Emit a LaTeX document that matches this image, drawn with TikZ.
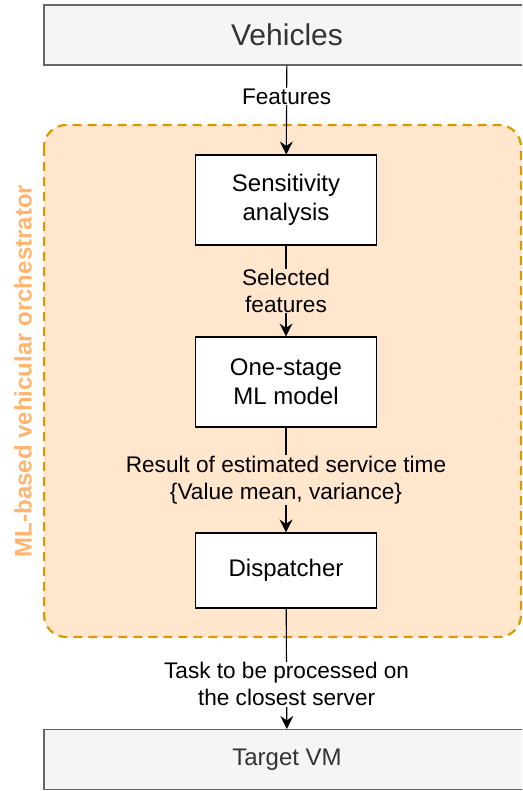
\documentclass[tikz,border=0pt]{standalone}
\usepackage{fontspec}
\setmainfont{Liberation Sans}
\usetikzlibrary{arrows.meta}
\definecolor{grayfill}{HTML}{F5F5F5}
\definecolor{graydraw}{HTML}{666666}
\definecolor{graytext}{HTML}{333333}
\definecolor{orangefill}{HTML}{FFE6CC}
\definecolor{orangedraw}{HTML}{D79B00}
\definecolor{orangetext}{HTML}{FFB570}
\tikzset{
  box/.style={draw, line width=1.1pt, fill=white, minimum width=181pt,
    minimum height=90pt, align=center, font=\fontsize{24}{29}\selectfont},
  endbox/.style={draw=graydraw, fill=grayfill, text=graytext, line width=1.1pt,
    minimum width=486pt, minimum height=60pt},
  lbl/.style={fill=white, inner sep=0.5pt, align=center,
    font=\fontsize{22.6}{27}\selectfont},
  arr/.style={line width=1.1pt, -{Stealth[length=13pt,width=13pt,inset=4.5pt]}}
}
\begin{document}
\begin{tikzpicture}[x=1pt, y=-1pt]
      \path[use as bounding box, clip] (0,0) rectangle (522,791);
      % orchestrator container
      \draw[orangedraw, fill=orangefill, line width=2.2pt, rounded corners=22pt,
        dash pattern=on 9pt off 6pt] (44,125) rectangle (521,637);
      \node[rotate=90, text=orangetext, font=\fontsize{24}{28}\selectfont\bfseries]
        (orch) at (23,371) {ML-based vehicular orchestrator};
      \draw
        (287,35) node[endbox, font=\fontsize{30}{36}\selectfont] (veh) {Vehicles}
        (286,200) node[box] (sens) {Sensitivity\\analysis}
        (286,382) node[box] (model) {One-stage\\ML model}
        (286,570.5) node[box, minimum height=75pt] (disp) {Dispatcher}
        (287,759.5) node[endbox, font=\fontsize{24}{28}\selectfont] (tvm) {Target VM};
      \begin{scope}[arr]
        \draw (veh) to node[lbl, pos=0.35] {Features} (sens);
        \draw (sens) to node[lbl, fill=orangefill] {Selected\\features} (model);
        \draw (model) to node[lbl, fill=orangefill]
          {Result of estimated service time\\\{Value mean, variance\}} (disp);
        \draw (disp) to node[lbl, pos=0.63]
          {Task to be processed on\\the closest server} (tvm);
      \end{scope}
    \end{tikzpicture}
\end{document}
